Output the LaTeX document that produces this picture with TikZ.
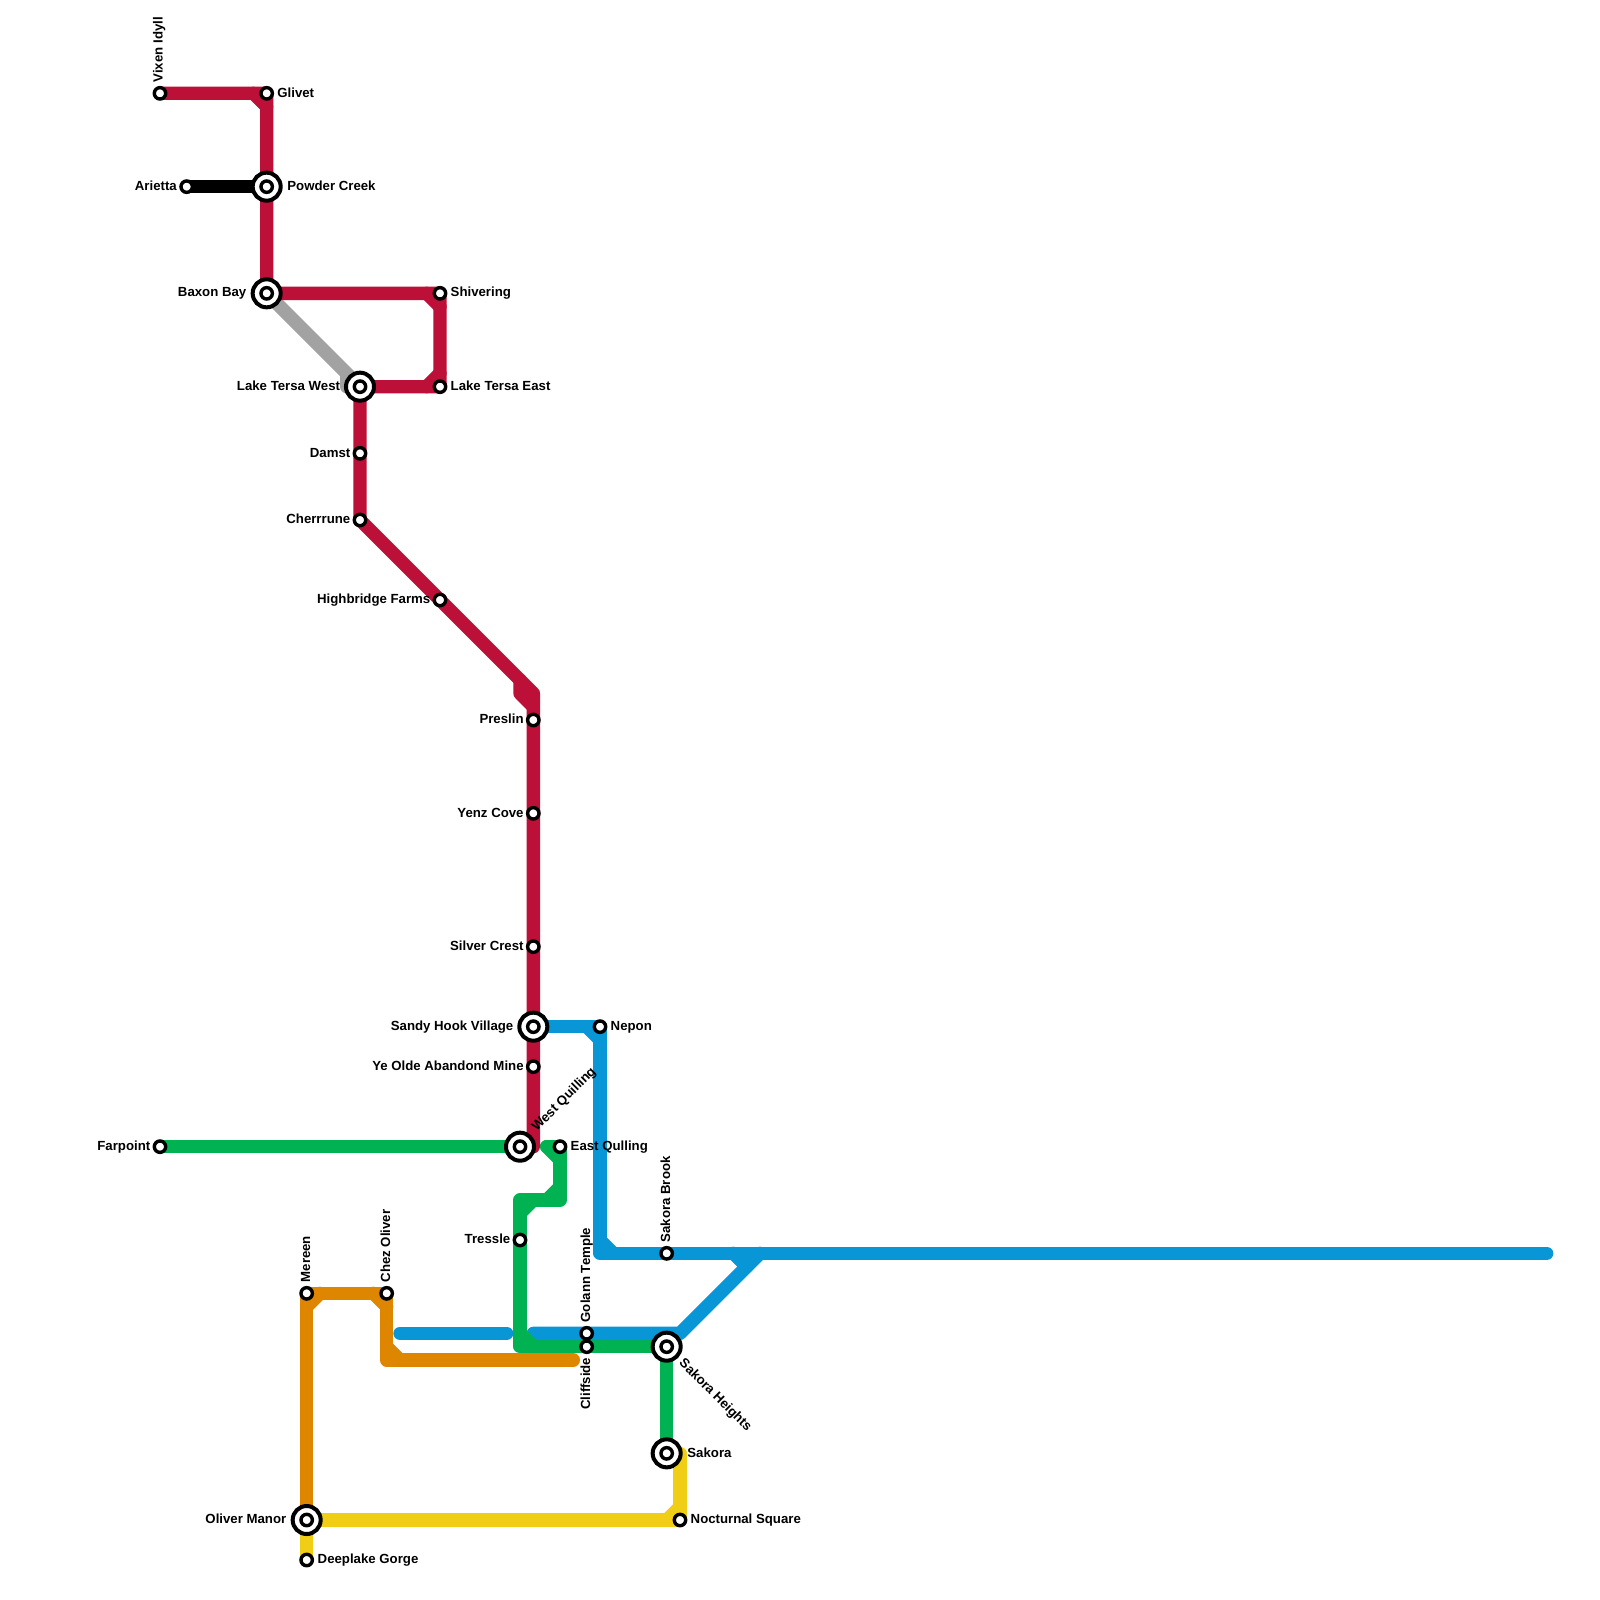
\documentclass[tikz,border=0pt]{standalone}
\usepackage{fontspec}
\setmainfont{Liberation Sans}
\usetikzlibrary{backgrounds}
\definecolor{lred}{HTML}{BD1038}
\definecolor{lgrey}{HTML}{A2A2A2}
\definecolor{lgreen}{HTML}{00B251}
\definecolor{lblue}{HTML}{0896D7}
\definecolor{lorange}{HTML}{DF8600}
\definecolor{lyellow}{HTML}{F0CE15}
\tikzset{
  x=0.01cm,y=-0.01cm,
  rail/.style={line width=3.794pt,line cap=round,line join=round},
  stn/.style={circle,draw=black,fill=white,line width=0.97pt,minimum size=0.114cm,inner sep=0pt,outer sep=0pt},
  hub/.style={circle,draw=black,fill=white,line width=1.14pt,minimum size=0.28cm,inner sep=0pt,outer sep=0pt},
  txt/.style={inner sep=0pt,font=\fontsize{3.76pt}{4.5pt}\selectfont\bfseries,text height=2.7pt,text depth=0pt,text=black},
  lw/.style={txt,anchor=west},
  le/.style={txt,anchor=east},
  lu/.style={txt,anchor=west,rotate=90},
  ld/.style={txt,anchor=east,rotate=90},
  lne/.style={txt,anchor=west,rotate=45},
  lse/.style={txt,anchor=west,rotate=-45},
}
\begin{document}
\begin{tikzpicture}
\useasboundingbox (0,0) rectangle (1600,1600);
% hubs
\node[hub] (powder) at (266.67,186.67) {};
\node[hub] (baxon) at (266.67,293.33) {};
\node[hub] (ltw) at (360,386.67) {};
\node[hub] (sandy) at (533.33,1026.67) {};
\node[hub] (wq) at (520,1146.67) {};
\node[hub] (sheights) at (666.67,1346.67) {};
\node[hub] (sakora) at (666.67,1453.33) {};
\node[hub] (oliver) at (306.67,1520) {};
\foreach \n in {powder,baxon,ltw,sandy,wq,sheights,sakora,oliver}{\node[stn] (\n i) at (\n.center) {};}
% stations
\node[stn] (vixen) at (160,93.33) {};
\node[stn] (glivet) at (266.67,93.33) {};
\node[stn] (arietta) at (186.67,186.67) {};
\node[stn] (shiv) at (440,293.33) {};
\node[stn] (lte) at (440,386.67) {};
\node[stn] (damst) at (360,453.33) {};
\node[stn] (cherr) at (360,520) {};
\node[stn] (high) at (440,600) {};
\node[stn] (preslin) at (533.33,720) {};
\node[stn] (yenz) at (533.33,813.33) {};
\node[stn] (silver) at (533.33,946.67) {};
\node[stn] (olde) at (533.33,1066.67) {};
\node[stn] (nepon) at (600,1026.67) {};
\node[stn] (farpoint) at (160,1146.67) {};
\node[stn] (eq) at (560,1146.67) {};
\node[stn] (tressle) at (520,1240) {};
\node[stn] (brook) at (666.67,1253.33) {};
\node[stn] (golann) at (586.67,1333.33) {};
\node[stn] (cliff) at (586.67,1346.67) {};
\node[stn] (mereen) at (306.67,1293.33) {};
\node[stn] (chez) at (386.67,1293.33) {};
\node[stn] (noct) at (680,1520) {};
\node[stn] (deep) at (306.67,1560) {};
% waypoints
\coordinate (redkink) at (533.33,693.33);
\coordinate (redend) at (533.33,1146.67);
\coordinate (blueend) at (1546.67,1253.33);
\coordinate (bluecorner) at (600,1253.33);
\coordinate (bluediagtop) at (760,1253.33);
\coordinate (bluediagfoot) at (680,1333.33);
\coordinate (stubl) at (400,1333.33);
\coordinate (stubr) at (506.67,1333.33);
\coordinate (bluestart) at (533.33,1333.33);
\coordinate (eqstub) at (546.67,1146.67);
\coordinate (eqfoot) at (560,1200);
\coordinate (grtop) at (520,1200);
\coordinate (grbot) at (520,1346.67);
\coordinate (orcorner) at (386.67,1360);
\coordinate (orend) at (573.33,1360);
\coordinate (ycorner) at (680,1453.33);
\begin{pgfonlayer}{background}
\draw[rail,lgrey] (baxon.center) -- (ltw.center) (346.67,373.33) -- (346.67,386.67) -- (ltw.center);
\draw[rail,lyellow] (deep.center) -- (oliver.center) -- (noct.center) -- (ycorner) -- (sakora.center);
\draw[rail,lyellow] (noct.center) ++(-13.33,0) -- ++(13.33,-13.33);
\draw[rail,lgreen] (farpoint.center) -- (wq.center);
\draw[rail,lgreen] (sheights.center) -- (sakora.center);
\draw[rail,lgreen] (eqstub) -- (eq.center) -- (eqfoot) -- (grtop) -- (grbot) -- (sheights.center);
\draw[rail,lgreen] (eqstub) -- ++(13.33,13.33);
\draw[rail,lgreen] (eqfoot) ++(0,-13.33) -- ++(-13.33,13.33);
\draw[rail,lgreen] (grtop) ++(13.33,0) -- ++(-13.33,13.33);
\draw[rail,lblue] (sandy.center) -- (nepon.center) -- (bluecorner) -- (blueend);
\draw[rail,lblue] (nepon.center) ++(-13.33,0) -- ++(13.33,13.33);
\draw[rail,lblue] (bluecorner) ++(0,-13.33) -- ++(13.33,13.33);
\draw[rail,lblue] (stubl) -- (stubr);
\draw[rail,lblue] (bluestart) -- (bluediagfoot) -- (bluediagtop);
\draw[rail,lblue] (733.33,1253.33) -- ++(13.33,13.33);
\draw[rail,lgreen] (grbot) ++(0,-13.33) -- ++(13.33,13.33);
\draw[rail,lred] (vixen.center) -- (glivet.center) -- (powder.center) -- (baxon.center) -- (shiv.center) -- (lte.center) -- (ltw.center) -- (damst.center) -- (cherr.center) -- (redkink) -- (redend);
\draw[rail,lred] (glivet.center) ++(-13.33,0) -- ++(13.33,13.33);
\draw[rail,lred] (shiv.center) ++(-13.33,0) -- ++(13.33,13.33);
\draw[rail,lred] (lte.center) ++(-13.33,0) -- ++(13.33,-13.33);
\draw[rail,lred] (520,680) -- (520,693.33) -- (533.33,706.67);
\draw[rail,black] (arietta.center) -- (powder.center);
\draw[rail,lorange] (oliver.center) -- (mereen.center) -- (chez.center) -- (orcorner) -- (orend);
\draw[rail,lorange] (mereen.center) ++(0,13.33) -- ++(13.33,-13.33);
\draw[rail,lorange] (chez.center) ++(-13.33,0) -- ++(13.33,13.33);
\draw[rail,lorange] (orcorner) ++(0,-13.33) -- ++(13.33,13.33);
\end{pgfonlayer}
% labels
\node[lu] (tvixen) at (158,83) {Vixen Idyll};
\node[lw] (tglivet) at (276.7,92.5) {Glivet};
\node[lw] (tpowder) at (286.7,185.5) {Powder Creek};
\node[le] (tarietta) at (177.5,185.5) {Arietta};
\node[le] (tbaxon) at (247,292) {Baxon Bay};
\node[lw] (tshiv) at (450,292) {Shivering};
\node[le] (tltw) at (340.8,385.5) {Lake Tersa West};
\node[lw] (tlte) at (450,385.5) {Lake Tersa East};
\node[le] (tdamst) at (351,452.5) {Damst};
\node[le] (tcherr) at (351,519) {Cherrrune};
\node[le] (thigh) at (431,599) {Highbridge Farms};
\node[le] (tpreslin) at (524.3,719) {Preslin};
\node[le] (tyenz) at (524.3,812.5) {Yenz Cove};
\node[le] (tsilver) at (524.3,945.5) {Silver Crest};
\node[le] (tsandy) at (514,1025.5) {Sandy Hook Village};
\node[lw] (tnepon) at (610,1025.5) {Nepon};
\node[le] (tolde) at (524.3,1065.5) {Ye Olde Abandond Mine};
\node[lne] (twq) at (533,1129) {West Quilling};
\node[le] (tfar) at (151,1145.5) {Farpoint};
\node[lw] (teq) at (570,1145.5) {East Qulling};
\node[le] (ttres) at (511,1239) {Tressle};
\node[lu] (tbrook) at (665.4,1243) {Sakora Brook};
\node[lu] (tgolann) at (585.4,1323) {Golann Temple};
\node[ld] (tcliff) at (585.4,1357) {Cliffside};
\node[lse] (tsh) at (681.5,1360) {Sakora Heights};
\node[lw] (tsakora) at (686.7,1452.5) {Sakora};
\node[lu] (tmereen) at (305.4,1283) {Mereen};
\node[lu] (tchez) at (385.4,1283) {Chez Oliver};
\node[le] (toliver) at (287,1519) {Oliver Manor};
\node[lw] (tnoct) at (690,1519) {Nocturnal Square};
\node[lw] (tdeep) at (317,1559) {Deeplake Gorge};
\end{tikzpicture}
\end{document}
